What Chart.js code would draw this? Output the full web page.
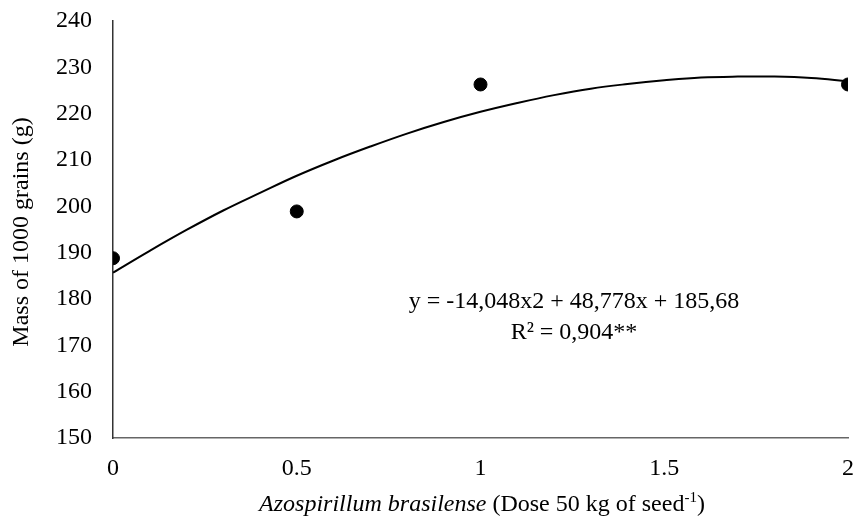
<!DOCTYPE html>
<html>
<head>
<meta charset="utf-8">
<script src="https://cdn.jsdelivr.net/npm/chart.js@4.4.1/dist/chart.umd.min.js"></script>
<style>
html,body{margin:0;padding:0;background:#fff;}
#wrap{width:856px;height:520px;position:relative;}
</style>
</head>
<body>
<div id="wrap"><canvas id="c" width="856" height="520"></canvas></div>
<script>
// Observed data
const doseX = [0, 0.5, 1, 2];
const massY = [188.8, 198.9, 226.3, 226.3];
// Trend curve
const curveX = [0, 0.1, 0.2, 0.3, 0.4, 0.5, 0.6, 0.7, 0.8, 0.9, 1.0, 1.1, 1.2, 1.3, 1.4, 1.5, 1.6, 1.7, 1.8, 1.9, 2.0];
const curveY = [185.7, 190.4, 194.9, 199.1, 202.9, 206.6, 209.9, 212.9, 215.7, 218.2, 220.4, 222.3, 224.0, 225.4, 226.4, 227.2, 227.8, 228.0, 228.0, 227.7, 227.0];
const xTicks = [0, 0.5, 1, 1.5, 2];
const yTicks = [150, 160, 170, 180, 190, 200, 210, 220, 230, 240];
const eqLine1 = "y = -14,048x2 + 48,778x + 185,68";
const eqLine2 = "R² = 0,904**";
const yTitle = "Mass of 1000 grains (g)";
const xTitleItalic = "Azospirillum brasilense";
const xTitleRest = " (Dose 50 kg of seed";
const xTitleSup = "-1";
const xTitleEnd = ")";

const FONT = "'Liberation Serif', 'Times New Roman', serif";
const FS = 24;

const textPlugin = {
  id: 'texts',
  afterDraw(chart) {
    const ctx = chart.ctx;
    ctx.save();
    ctx.fillStyle = '#000';
    ctx.textBaseline = 'middle';
    // equation
    ctx.font = FS + "px " + FONT;
    ctx.textAlign = 'center';
    ctx.fillText(eqLine1, 574, 302);
    ctx.fillText(eqLine2, 574, 333);
    // y title
    ctx.save();
    ctx.translate(22, 232);
    ctx.rotate(-Math.PI / 2);
    ctx.font = FS + "px " + FONT;
    ctx.textAlign = 'center';
    ctx.fillText(yTitle, 0, 0);
    ctx.restore();
    // x title (mixed styles)
    const it = "italic " + FS + "px " + FONT, rg = FS + "px " + FONT, sm = "15px " + FONT;
    ctx.font = it; const w1 = ctx.measureText(xTitleItalic).width;
    ctx.font = rg; const w2 = ctx.measureText(xTitleRest).width;
    ctx.font = sm; const w3 = ctx.measureText(xTitleSup).width;
    ctx.font = rg; const w4 = ctx.measureText(xTitleEnd).width;
    let x = 482 - (w1 + w2 + w3 + w4) / 2;
    const y = 505;
    ctx.textAlign = 'left';
    ctx.font = it; ctx.fillText(xTitleItalic, x, y); x += w1;
    ctx.font = rg; ctx.fillText(xTitleRest, x, y); x += w2;
    ctx.font = sm; ctx.fillText(xTitleSup, x, y - 7); x += w3;
    ctx.font = rg; ctx.fillText(xTitleEnd, x, y);
    ctx.restore();
  }
};

new Chart(document.getElementById('c'), {
  type: 'scatter',
  data: {
    datasets: [
      {
        label: 'curve',
        data: curveX.map((x, i) => ({x, y: curveY[i]})),
        showLine: true,
        borderColor: '#000',
        borderWidth: 2,
        pointRadius: 0,
        tension: 0.4,
        fill: false,
        order: 2
      },
      {
        label: 'obs',
        data: doseX.map((x, i) => ({x, y: massY[i]})),
        backgroundColor: '#000',
        borderColor: '#000',
        pointRadius: 6.5,
        pointHoverRadius: 6.5,
        order: 1
      }
    ]
  },
  options: {
    responsive: false,
    animation: false,
    events: [],
    layout: {padding: {left: 0, right: 8, top: 21, bottom: 0}},
    plugins: {legend: {display: false}, tooltip: {enabled: false}},
    scales: {
      x: {
        type: 'linear', min: 0, max: 2,
        afterBuildTicks: s => { s.ticks = xTicks.map(v => ({value: v})); },
        afterFit: s => { s.height = 82; s.paddingLeft = 0; s.paddingRight = 0; s.paddingTop = 0; s.paddingBottom = 0; },
        grid: {display: false, drawTicks: false},
        border: {display: true, color: '#666', width: 1.5},
        ticks: {color: '#000', font: {family: FONT, size: FS}, padding: 16, callback: v => String(v)}
      },
      y: {
        type: 'linear', min: 150, max: 240,
        afterBuildTicks: s => { s.ticks = yTicks.map(v => ({value: v})); },
        afterFit: s => { s.width = 113; s.paddingLeft = 0; s.paddingRight = 0; s.paddingTop = 0; s.paddingBottom = 0; },
        grid: {display: false, drawTicks: false},
        border: {display: true, color: '#333', width: 1.5},
        ticks: {color: '#000', font: {family: FONT, size: FS}, padding: 21}
      }
    }
  },
  plugins: [textPlugin]
});
</script>
</body>
</html>
